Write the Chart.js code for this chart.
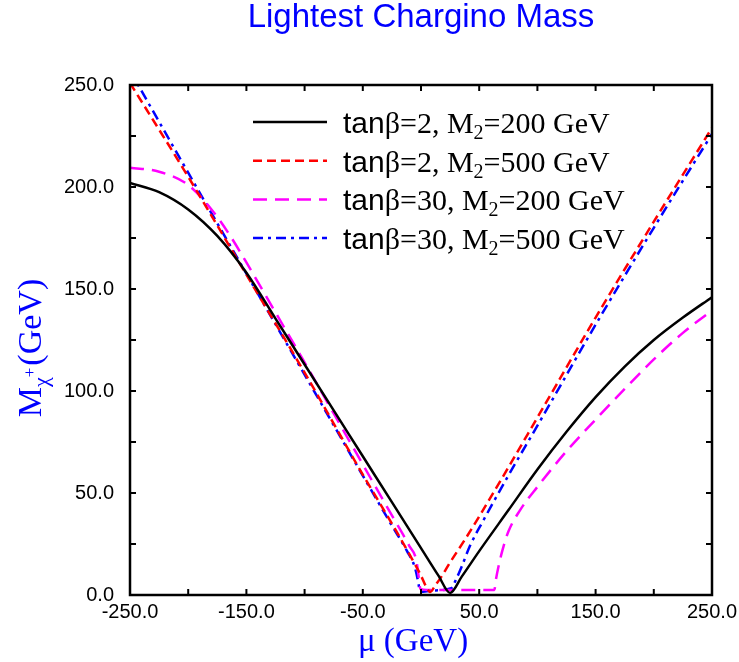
<!DOCTYPE html>
<html>
<head>
<meta charset="utf-8">
<script src="https://cdn.jsdelivr.net/npm/chart.js@4.4.1/dist/chart.umd.min.js"></script>
<style>
  html, body { margin: 0; padding: 0; background: #ffffff; }
  canvas { display: block; }
</style>
</head>
<body>
<canvas id="myChart" width="739" height="662"></canvas>
<script>
// Lightest chargino mass as a function of mu, four (tan beta, M2) choices

const tanBeta = [2, 2, 30, 30];
const m2 = [200, 500, 200, 500];

// tan beta = 2, M2 = 200 GeV
const muA   = [-250, -225, -200, -175, -150, -125, -100, -75, -50, -25, 0, 15, 25, 35, 50, 75, 100, 125, 150, 175, 200, 225, 250];
const massA = [202, 197.5, 189, 176, 158, 135.5, 113, 90.5, 68, 45.5, 23, 9.5, 1, 9, 21.5, 41.5, 61.5, 80, 97, 112, 125, 136, 146];

// tan beta = 2, M2 = 500 GeV
const muB   = [-250, -200, -150, -100, -50, -25, -10, 0, 4, 8, 12, 17, 25, 37, 50, 75, 100, 150, 200, 250];
const massB = [251, 205, 157, 109, 59, 35, 20, 9.5, 4.5, 1.5, 4.5, 8.5, 16, 26.5, 38.5, 62.5, 87, 136, 183, 229];

// tan beta = 30, M2 = 200 GeV
const muC   = [-250, -225, -200, -180, -165, -150, -125, -100, -75, -50, -25, -10, -4, -2, -0.5, 5, 30, 63, 64.5, 67, 70, 75, 85, 100, 125, 150, 175, 200, 225, 250];
const massC = [209.5, 207.5, 201, 189, 177, 163, 138.5, 114, 89, 64, 39, 24, 17, 9, 3, 2.5, 2.5, 2.5, 8, 15, 22, 31, 41.5, 53, 70.5, 86, 101, 115.5, 128.5, 139.5];

// tan beta = 30, M2 = 500 GeV
const muD   = [-250, -200, -150, -100, -50, -25, -12, -5, -2, -1, 10, 26, 30, 35, 42, 54, 75, 100, 150, 200, 250];
const massD = [257, 207, 157.5, 108, 58.5, 34, 21.5, 13, 5, 1.5, 2.2, 3.3, 7.5, 14, 24, 37, 58.5, 83, 132.5, 180, 226];

const xLabels = [-250, -150, -50, 50, 150, 250];
const yLabels = [0, 50, 100, 150, 200, 250];

const lineColors = ['#000000', '#ff0000', '#ff00ff', '#0000ff'];
const lineDashes = [[], [9, 5], [14, 8], [10, 5, 3, 5]];

function pts(xs, ys) {
  return xs.map((x, i) => ({ x: x, y: ys[i] }));
}

const series = [pts(muA, massA), pts(muB, massB), pts(muC, massC), pts(muD, massD)];

const SANS = '"Liberation Sans", Arial, sans-serif';
const SERIF = '"Liberation Serif", "Times New Roman", serif';

// draw a run of text pieces, each with its own font and baseline shift
function drawRich(ctx, pieces, x, y) {
  let cx = x;
  pieces.forEach(p => {
    ctx.font = p.font;
    ctx.fillText(p.text, cx, y + (p.dy || 0));
    cx += ctx.measureText(p.text).width + (p.gap || 0);
  });
  return cx - x;
}

function richWidth(ctx, pieces) {
  let w = 0;
  pieces.forEach(p => {
    ctx.font = p.font;
    w += ctx.measureText(p.text).width + (p.gap || 0);
  });
  return w;
}

// frame around the plot with inward ticks on every side
const frameTicks = {
  id: 'frameTicks',
  afterDatasetsDraw(chart) {
    const { ctx, chartArea: a, scales } = chart;
    ctx.save();
    ctx.strokeStyle = '#000';
    ctx.lineWidth = 2;
    const len = 6;
    ctx.beginPath();
    scales.x.ticks.forEach(t => {
      const px = scales.x.getPixelForValue(t.value);
      ctx.moveTo(px, a.bottom); ctx.lineTo(px, a.bottom - len);
      ctx.moveTo(px, a.top); ctx.lineTo(px, a.top + len);
    });
    scales.y.ticks.forEach(t => {
      const py = scales.y.getPixelForValue(t.value);
      ctx.moveTo(a.left, py); ctx.lineTo(a.left + len, py);
      ctx.moveTo(a.right, py); ctx.lineTo(a.right - len, py);
    });
    ctx.stroke();
    ctx.lineWidth = 2.5;
    ctx.strokeRect(a.left, a.top, a.right - a.left, a.bottom - a.top);
    ctx.restore();
  }
};

// title and the two axis titles
const headings = {
  id: 'headings',
  afterDraw(chart) {
    const { ctx, chartArea: a } = chart;
    ctx.save();
    ctx.fillStyle = '#0000ff';
    ctx.textBaseline = 'alphabetic';
    ctx.textAlign = 'center';
    ctx.font = '33px ' + SANS;
    ctx.fillText('Lightest Chargino Mass', (a.left + a.right) / 2, 27);

    ctx.font = '33px ' + SERIF;
    ctx.fillText('\u03bc (GeV)', (a.left + a.right) / 2 - 8, 651);

    ctx.textAlign = 'left';
    const yTitle = [
      { text: 'M', font: '34px ' + SERIF },
      { text: '\u03c7', font: '22px ' + SERIF, dy: 7 },
      { text: '+', font: '17px ' + SERIF, dy: -6, gap: 2 },
      { text: '(GeV)', font: '34px ' + SERIF }
    ];
    const w = richWidth(ctx, yTitle);
    ctx.translate(41, 348);
    ctx.rotate(-Math.PI / 2);
    drawRich(ctx, yTitle, -w / 2, 0);
    ctx.restore();
  }
};

// legend rows with the line samples taken from the datasets
const legendRows = {
  id: 'legendRows',
  afterDraw(chart) {
    const ctx = chart.ctx;
    ctx.save();
    chart.data.datasets.forEach((ds, i) => {
      const y = 122 + i * 38.7;
      ctx.strokeStyle = ds.borderColor;
      ctx.lineWidth = ds.borderWidth;
      ctx.setLineDash(ds.borderDash);
      ctx.beginPath();
      ctx.moveTo(253, y);
      ctx.lineTo(327, y);
      ctx.stroke();
      ctx.setLineDash([]);
      ctx.fillStyle = '#000';
      ctx.textAlign = 'left';
      ctx.textBaseline = 'alphabetic';
      drawRich(ctx, [
        { text: 'tan', font: '30px ' + SANS },
        { text: '\u03b2=' + tanBeta[i] + ', M', font: '30px ' + SERIF },
        { text: '2', font: '20px ' + SERIF, dy: 6 },
        { text: '=' + m2[i] + ' GeV', font: '30px ' + SERIF }
      ], 343, y + 11);
    });
    ctx.restore();
  }
};

new Chart(document.getElementById('myChart'), {
  type: 'line',
  data: {
    datasets: series.map((d, i) => ({
      label: 'tan\u03b2=' + tanBeta[i] + ', M2=' + m2[i] + ' GeV',
      data: d,
      borderColor: lineColors[i],
      borderDash: lineDashes[i],
      borderWidth: 2.5,
      pointRadius: 0,
      fill: false,
      cubicInterpolationMode: 'monotone',
      clip: 0
    }))
  },
  options: {
    responsive: false,
    animation: false,
    events: [],
    layout: { padding: { top: 85, right: 27, left: 0, bottom: 0 } },
    plugins: {
      legend: { display: false },
      title: { display: false },
      tooltip: { enabled: false }
    },
    scales: {
      x: {
        type: 'linear',
        min: -250,
        max: 250,
        afterFit(scale) {
          scale.height = 67;
          scale.paddingLeft = 0;
          scale.paddingRight = 0;
        },
        grid: { display: false, drawTicks: false },
        border: { display: false },
        ticks: {
          stepSize: 50,
          autoSkip: false,
          maxRotation: 0,
          padding: 5,
          color: '#000',
          font: { family: SANS, size: 20 },
          callback: v => xLabels.includes(v) ? v.toFixed(1) : ''
        }
      },
      y: {
        type: 'linear',
        min: 0,
        max: 250,
        afterFit(scale) { scale.width = 130; },
        grid: { display: false, drawTicks: false },
        border: { display: false },
        ticks: {
          stepSize: 25,
          autoSkip: false,
          padding: 16,
          color: '#000',
          font: { family: SANS, size: 20 },
          callback: v => yLabels.includes(v) ? v.toFixed(1) : ''
        }
      }
    }
  },
  plugins: [frameTicks, headings, legendRows]
});
</script>
</body>
</html>
